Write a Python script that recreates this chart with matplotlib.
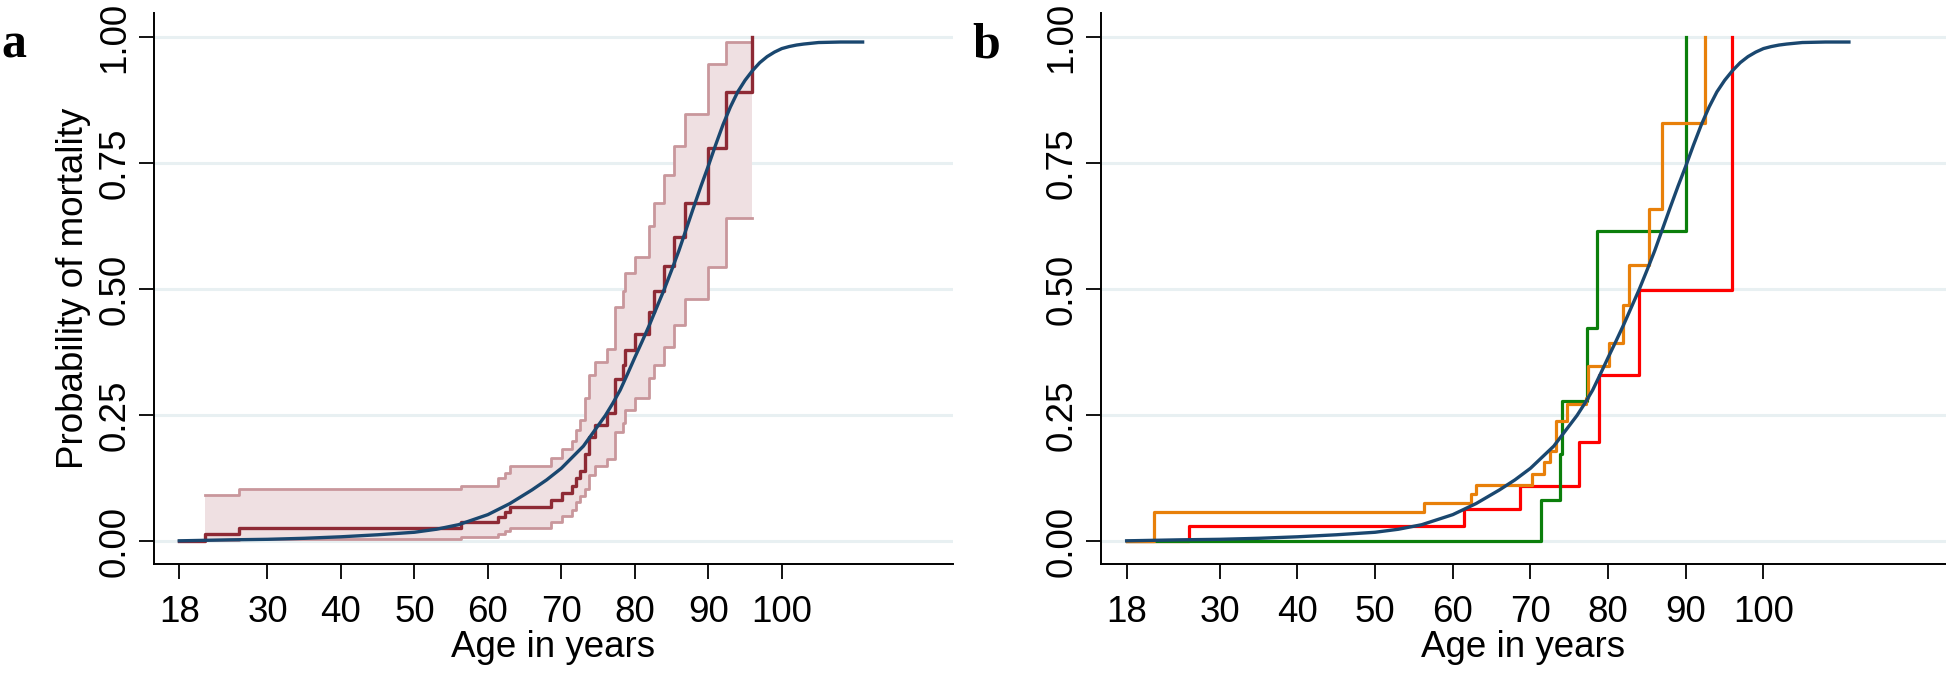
import numpy as np
import matplotlib
matplotlib.use("Agg")
import matplotlib.pyplot as plt

# panel a: Kaplan-Meier (cumulative mortality) with 95% CI
a_age = [18, 21.5, 26.1, 56.3, 61.4, 62.3, 63.0, 68.6, 70.1, 71.4, 72.0, 72.6, 73.2, 73.8,
         74.6, 76.2, 77.3, 78.4, 78.7, 80.0, 81.9, 82.6, 84.0, 85.3, 86.8, 90.0, 92.4, 95.9]
a_km = [0, 0.014, 0.026, 0.038, 0.049, 0.059, 0.069, 0.082, 0.095, 0.110, 0.126, 0.140, 0.174, 0.208,
        0.231, 0.254, 0.322, 0.349, 0.379, 0.411, 0.455, 0.496, 0.547, 0.605, 0.671, 0.781, 0.892, 1.0]
ci_age = a_age[1:]
ci_upper = [0.091, 0.103, 0.110, 0.126, 0.136, 0.149, 0.166, 0.183, 0.200, 0.221, 0.240, 0.285, 0.330,
            0.355, 0.382, 0.465, 0.496, 0.532, 0.565, 0.625, 0.671, 0.727, 0.785, 0.849, 0.947, 0.992, 0.992]
ci_lower = [0.003, 0.005, 0.008, 0.014, 0.020, 0.026, 0.039, 0.050, 0.063, 0.078, 0.090, 0.103, 0.132,
            0.149, 0.163, 0.217, 0.234, 0.260, 0.285, 0.324, 0.349, 0.385, 0.429, 0.480, 0.544, 0.641, 0.641]

# fitted curve (same in both panels)
fit_age = [18, 25, 30, 35, 40, 45, 50, 53, 56, 60, 63, 66, 68, 70, 73, 76, 77, 78, 79, 80, 81, 82,
           83, 84, 85, 86, 87, 88, 89, 90, 91, 92, 93, 94, 95, 96, 97, 98, 99, 100, 101, 102, 103,
           105, 108, 111]
fit_p = [0.001, 0.003, 0.004, 0.006, 0.009, 0.013, 0.018, 0.024, 0.033, 0.053, 0.075, 0.102, 0.122,
         0.145, 0.189, 0.250, 0.274, 0.300, 0.332, 0.365, 0.397, 0.430, 0.465, 0.500, 0.538, 0.577,
         0.620, 0.663, 0.705, 0.745, 0.787, 0.827, 0.862, 0.892, 0.915, 0.934, 0.950, 0.962, 0.971,
         0.978, 0.982, 0.985, 0.987, 0.990, 0.991, 0.991]

# panel b: three groups
red_age = [18, 26.0, 61.5, 68.7, 76.3, 78.8, 84.0, 96.0]
red_p = [0, 0.030, 0.065, 0.109, 0.197, 0.330, 0.498, 1.0]
green_age = [18, 71.3, 73.8, 74.0, 77.3, 78.5, 90.0]
green_p = [0, 0.083, 0.174, 0.279, 0.423, 0.615, 1.0]
orange_age = [18, 21.5, 56.3, 62.4, 63.0, 70.2, 71.7, 72.5, 73.3, 74.7, 77.2, 77.4, 80.1, 81.9,
              82.7, 85.3, 86.9, 92.5]
orange_p = [0, 0.059, 0.077, 0.094, 0.112, 0.134, 0.158, 0.180, 0.239, 0.273, 0.284, 0.347, 0.394,
            0.470, 0.548, 0.660, 0.830, 1.0]

x_ticks = [18, 30, 40, 50, 60, 70, 80, 90, 100]
y_ticks = [0, 0.25, 0.5, 0.75, 1.0]
y_labels = ["0.00", "0.25", "0.50", "0.75", "1.00"]

plt.rcParams["font.family"] = ["Liberation Sans", "DejaVu Sans"]
FS = 26.5

W, H = 1946, 674
fig = plt.figure(figsize=(W / 100, H / 100), dpi=100)

ax_a = fig.add_axes([154 / W, 110 / H, (953 - 154) / W, (661 - 110) / H])
ax_b = fig.add_axes([1101 / W, 110 / H, (1946 - 1101) / W, (661 - 110) / H])


def style_axes(ax, xlim):
    ax.set_xlim(*xlim)
    ax.set_ylim(-0.045, 1.0486)
    for y in y_ticks:
        ax.axhline(y, color="#e8f0f2", lw=2.2, zorder=0)
    ax.spines["top"].set_visible(False)
    ax.spines["right"].set_visible(False)
    ax.spines["left"].set_linewidth(1.4)
    ax.spines["bottom"].set_linewidth(1.4)
    ax.set_xticks(x_ticks)
    ax.set_yticks(y_ticks)
    ax.set_yticklabels(y_labels)
    ax.tick_params(axis="both", direction="out", length=11, width=1.3, labelsize=FS, colors="black")
    ax.tick_params(axis="x", pad=11)
    ax.tick_params(axis="y", pad=4.5, labelrotation=90)
    for lab in ax.get_yticklabels():
        lab.set_va("center")
    ax.set_xlabel("Age in years", fontsize=FS, labelpad=0)


# panel a
style_axes(ax_a, (14.56, 123.3))
ax_a.fill_between(ci_age, ci_lower, ci_upper, step="post", color="#efe0e2", lw=0, zorder=1)
ax_a.step(ci_age, ci_upper, where="post", color="#c9979c", lw=2.0, zorder=2)
ax_a.step(ci_age, ci_lower, where="post", color="#c9979c", lw=2.0, zorder=2)
ax_a.step(a_age, a_km, where="post", color="#8e2a35", lw=2.4, zorder=3)
ax_a.plot(fit_age, fit_p, color="#1a476f", lw=2.4, zorder=4)
ax_a.set_ylabel("Probability of mortality", fontsize=FS, labelpad=5)

# panel b
style_axes(ax_b, (14.7, 123.5))
ax_b.step(red_age, red_p, where="post", color="#ff0000", lw=2.3, zorder=2)
ax_b.step(green_age, green_p, where="post", color="#0b7f0b", lw=2.3, zorder=3)
ax_b.step(orange_age, orange_p, where="post", color="#e8800a", lw=2.3, zorder=4)
ax_b.plot(fit_age, fit_p, color="#1a476f", lw=2.4, zorder=5)

fig.text(1 / W, 1 - 57 / H, "a", fontsize=36, fontweight="bold", family="Liberation Serif", va="baseline")
fig.text(972 / W, 1 - 57 / H, "b", fontsize=36, fontweight="bold", family="Liberation Serif", va="baseline")

fig.savefig("out.png", dpi=100)
